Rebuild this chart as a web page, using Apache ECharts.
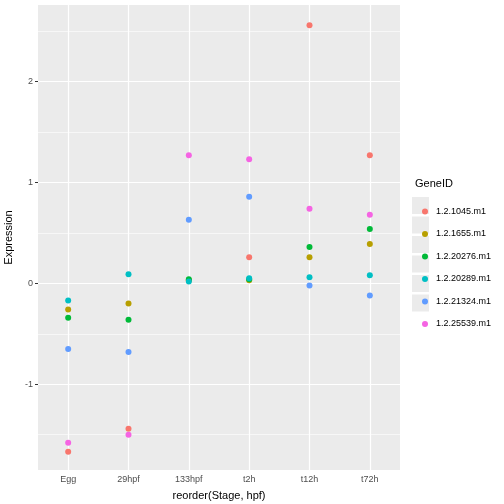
<!DOCTYPE html><html><head><meta charset="utf-8"><script src="https://cdn.jsdelivr.net/npm/echarts@6/dist/echarts.min.js"></script></head><body style="margin:0"><div id="c" style="width:504px;height:504px"></div><script>
const categories=['Egg','29hpf','133hpf','t2h','t12h','t72h'];
const genes=['1.2.1045.m1','1.2.1655.m1','1.2.20276.m1','1.2.20289.m1','1.2.21324.m1','1.2.25539.m1'];
const colors=['#F8766D','#B79F00','#00BA38','#00BFC4','#619CFF','#F564E3'];
const values=[
 [-1.67,-1.44,0.03,0.26,2.56,1.27],
 [-0.26,-0.20,0.03,0.03,0.26,0.39],
 [-0.34,-0.36,0.04,0.04,0.36,0.54],
 [-0.17,0.09,0.02,0.05,0.06,0.08],
 [-0.65,-0.68,0.63,0.86,-0.02,-0.12],
 [-1.58,-1.50,1.27,1.23,0.74,0.68]];
const yTicks=[-1,0,1,2];
const yGrid=[-1.5,-1,-0.5,0,0.5,1,1.5,2,2.5];
const series=genes.map((g,i)=>({name:g,type:'scatter',symbolSize:6,itemStyle:{color:colors[i],opacity:1},
 data:values[i].map((v,j)=>[categories[j],v]),z:5}));
series.push({type:'scatter',data:[],silent:true,z:1,zlevel:0,markLine:{silent:true,symbol:'none',label:{show:false},animation:false,z:1,
 data:yGrid.map(v=>({yAxis:v,lineStyle:{color:'#fff',width:Number.isInteger(v)?1.2:0.6,type:'solid'}})).concat(
 categories.map(c=>({xAxis:c,lineStyle:{color:'#fff',width:1.2,type:'solid'}})))}});
const ch=echarts.init(document.getElementById('c'));
ch.setOption({animation:false,
 grid:{left:38,right:104,top:5,bottom:34,show:true,backgroundColor:'#EBEBEB',borderWidth:0,containLabel:false,outerBoundsMode:'none'},
 xAxis:{type:'category',data:categories,boundaryGap:true,name:'reorder(Stage, hpf)',nameLocation:'middle',nameGap:20,
  nameTextStyle:{fontSize:11,color:'#000',fontFamily:'Liberation Sans'},axisLine:{show:false},
  axisTick:{show:true,alignWithLabel:true,length:3,lineStyle:{color:'#333'}},
  axisLabel:{fontSize:9,color:'#4D4D4D',margin:5,fontFamily:'Liberation Sans'},splitLine:{show:false}},
 yAxis:{type:'value',min:-1.85,max:2.76,name:'Expression',nameLocation:'middle',nameGap:24,
  nameTextStyle:{fontSize:11,color:'#000',fontFamily:'Liberation Sans'},axisLine:{show:false},
  axisTick:{show:true,length:3,customValues:yTicks,lineStyle:{color:'#333'}},
  axisLabel:{customValues:yTicks,fontSize:9,color:'#4D4D4D',margin:5,fontFamily:'Liberation Sans'},splitLine:{show:false}},
 legend:{orient:'vertical',left:417,top:202,itemGap:13.5,itemWidth:6,itemHeight:6,icon:'circle',
  data:genes,textStyle:{fontSize:9,color:'#000',fontFamily:'Liberation Sans',padding:[0,0,0,3]}},
 graphic:[{type:'text',left:415,top:178,style:{text:'GeneID',fontSize:11,fill:'#000',fontFamily:'Liberation Sans'}}].concat(
  genes.map((g,i)=>({type:'rect',shape:{x:412,y:197+i*19.5,width:17,height:17},style:{fill:'#EBEBEB'},z:-1}))),
 series});
</script></body></html>
